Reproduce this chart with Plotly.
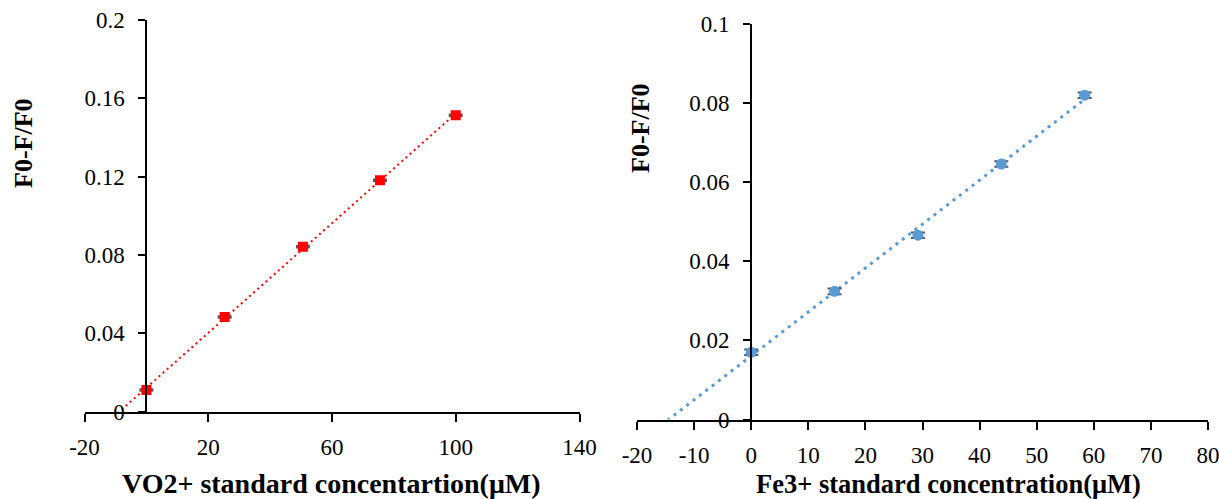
import numpy as np
import plotly.graph_objects as go

# ---- data ----
vo_conc = [0, 25.3, 50.6, 75.5, 100]
vo_ratio = [0.0110, 0.0483, 0.0842, 0.1181, 0.1513]
vo_err = [0.0004, 0.0004, 0.0004, 0.0004, 0.0004]

fe_conc = [0, 14.6, 29.2, 43.8, 58.4]
fe_ratio = [0.0170, 0.0324, 0.0466, 0.0646, 0.0820]
fe_err = [0.0007, 0.0007, 0.0007, 0.0007, 0.0007]

left_xticks = [-20, 20, 60, 100, 140]
left_xticktext = ["-20", "20", "60", "100", "140"]
left_yticks = [0, 0.04, 0.08, 0.12, 0.16, 0.2]
left_yticktext = ["0", "0.04", "0.08", "0.12", "0.16", "0.2"]
right_xticks = [-20, -10, 0, 10, 20, 30, 40, 50, 60, 70, 80]
right_xticktext = ["-20", "-10", "0", "10", "20", "30", "40", "50", "60", "70", "80"]
right_yticks = [0, 0.02, 0.04, 0.06, 0.08, 0.1]
right_yticktext = ["0", "0.02", "0.04", "0.06", "0.08", "0.1"]

xtitle_left = "VO2+ standard concentartion(μM)"
xtitle_right = "Fe3+ standard concentration(μM)"
ytitle = "F0-F/F0"

W, H = 1219, 499
FONT = "Liberation Serif"
RED = "#FF0000"
BLUE = "#5B9BD5"

# linear trendlines (least squares), extended backward to the x axis
s1, b1 = np.polyfit(vo_conc, vo_ratio, 1)
s2, b2 = np.polyfit(fe_conc, fe_ratio, 1)
t1x = [-12, max(vo_conc)]
t1y = [s1 * x + b1 for x in t1x]
t2x = [-18, max(fe_conc)]
t2y = [s2 * x + b2 for x in t2x]

fig = go.Figure()
fig.add_trace(go.Scatter(x=t1x, y=t1y, mode="lines", xaxis="x", yaxis="y",
                         line=dict(color=RED, width=2, dash="2px,3.5px"),
                         showlegend=False, hoverinfo="skip"))
fig.add_trace(go.Scatter(x=vo_conc, y=vo_ratio, mode="markers", xaxis="x", yaxis="y",
                         marker=dict(symbol="square", size=10, color=RED),
                         error_y=dict(type="data", array=vo_err, color="#595959",
                                      thickness=2, width=7),
                         showlegend=False))
fig.add_trace(go.Scatter(x=t2x, y=t2y, mode="lines", xaxis="x2", yaxis="y2",
                         line=dict(color=BLUE, width=3, dash="3px,5px"),
                         showlegend=False, hoverinfo="skip"))
fig.add_trace(go.Scatter(x=fe_conc, y=fe_ratio, mode="markers", xaxis="x2", yaxis="y2",
                         marker=dict(symbol="circle", size=11, color=BLUE),
                         error_y=dict(type="data", array=fe_err, color="#595959",
                                      thickness=2, width=7),
                         showlegend=False))

tickfont = dict(family=FONT, size=23, color="black")

def px_x(p):
    return p / W

def px_y(p):
    return 1 - p / H

# left plot area: x -20..140 at px 84.5..579.5 ; y 0..0.2 at px 411.5..20
Lx0, Lx1, Ly0, Ly1 = 84.5, 579.5, 411.5, 20
Rx0, Rx1, Ry0, Ry1 = 637, 1208, 419.5, 24

common_x = dict(showgrid=False, zeroline=False, showline=True, linecolor="black",
                linewidth=2, ticks="outside", ticklen=8, tickwidth=2, tickcolor="black",
                tickfont=tickfont, mirror=False, fixedrange=True, automargin=False,
                ticklabeloverflow="allow")
common_y = dict(showgrid=False, zeroline=False, showline=True, linecolor="black",
                linewidth=2, ticks="outside", ticklen=7, tickwidth=2, tickcolor="black",
                tickfont=tickfont, fixedrange=True, ticklabelstandoff=9, automargin=False)

def ann(text, x, y, size, angle=0):
    return dict(text="<b>" + text + "</b>", x=px_x(x), y=px_y(y),
                xref="paper", yref="paper", showarrow=False, textangle=angle,
                xanchor="center", yanchor="middle",
                font=dict(family=FONT, size=size, color="black"))

fig.update_layout(
    template="none",
    width=W, height=H, autosize=False,
    margin=dict(l=0, r=0, t=0, b=0, pad=0),
    paper_bgcolor="white", plot_bgcolor="white",
    font=dict(family=FONT, color="black"),
    xaxis=dict(common_x, domain=[px_x(Lx0), px_x(Lx1)], range=[-20, 140],
               tickvals=left_xticks, ticktext=left_xticktext, anchor="y",
               ticklabelstandoff=6),
    yaxis=dict(common_y, domain=[px_y(Ly0), px_y(Ly1)], range=[0, 0.2],
               tickvals=left_yticks, ticktext=left_yticktext,
               anchor="free", position=px_x(Lx0 + (0 - (-20)) / 160 * (Lx1 - Lx0))),
    xaxis2=dict(common_x, domain=[px_x(Rx0), px_x(Rx1)], range=[-20, 80],
                tickvals=right_xticks, ticktext=right_xticktext, anchor="y2",
                ticklabelstandoff=6),
    yaxis2=dict(common_y, domain=[px_y(Ry0), px_y(Ry1)], range=[0, 0.1],
                tickvals=right_yticks, ticktext=right_yticktext,
                anchor="free", position=px_x(Rx0 + (0 - (-20)) / 100 * (Rx1 - Rx0))),
    annotations=[
        ann(xtitle_left, 331, 483, 28),
        ann(xtitle_right, 948, 484, 26.5),
        ann(ytitle, 24, 143, 26, -90),
        ann(ytitle, 640, 128, 26, -90),
    ],
)

fig.write_html("out.html",
               config={"displayModeBar": False},
               post_script="document.body.style.margin='0';document.body.style.overflow='hidden';")
